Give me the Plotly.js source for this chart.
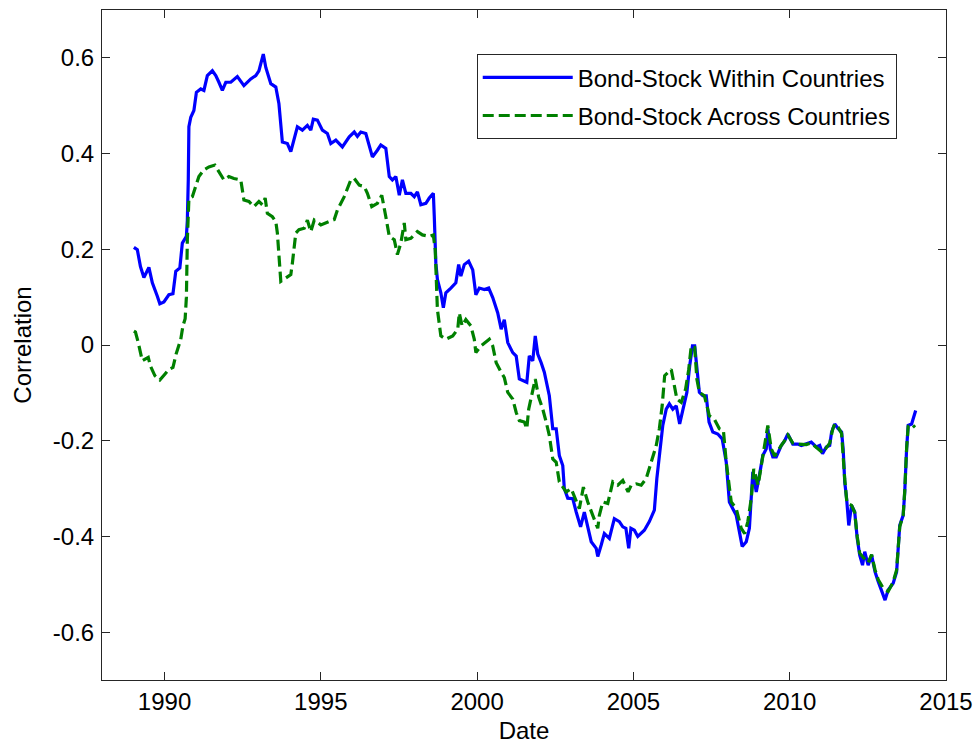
<!DOCTYPE html>
<html>
<head>
<meta charset="utf-8">
<script src="https://cdn.plot.ly/plotly-3.0.1.min.js"></script>
<style>html,body{margin:0;padding:0;background:#fff;}#chart{width:979px;height:746px;}</style>
</head>
<body>
<div id="chart"></div>
<script>
// Series names
const seriesNames = ["Bond-Stock Within Countries", "Bond-Stock Across Countries"];

// Bond-Stock Within Countries (date in decimal years, correlation)
const withinDates = [1989.02,1989.13,1989.23,1989.34,1989.50,1989.61,1989.77,1989.85,1989.98,1990.14,1990.27,1990.36,1990.49,1990.57,1990.70,1990.73,1990.76,1990.78,1990.84,1990.94,1991.02,1991.16,1991.26,1991.37,1991.53,1991.64,1991.74,1991.85,1991.96,1992.12,1992.33,1992.54,1992.76,1992.92,1993.02,1993.16,1993.24,1993.40,1993.56,1993.66,1993.77,1993.93,1994.04,1994.14,1994.25,1994.41,1994.57,1994.68,1994.76,1994.89,1995.05,1995.21,1995.32,1995.48,1995.69,1995.91,1996.07,1996.17,1996.28,1996.44,1996.55,1996.65,1996.81,1996.92,1997.08,1997.19,1997.29,1997.40,1997.51,1997.61,1997.72,1997.88,1997.99,1998.09,1998.20,1998.36,1998.47,1998.60,1998.63,1998.68,1998.73,1998.84,1998.92,1999.00,1999.16,1999.32,1999.41,1999.48,1999.59,1999.73,1999.86,1999.96,2000.07,2000.23,2000.37,2000.50,2000.66,2000.77,2000.87,2000.98,2001.14,2001.25,2001.35,2001.51,2001.59,2001.67,2001.78,2001.86,2001.94,2002.05,2002.15,2002.31,2002.42,2002.53,2002.63,2002.74,2002.79,2002.90,2003.06,2003.17,2003.31,2003.43,2003.54,2003.65,2003.81,2003.86,2003.97,2004.07,2004.23,2004.39,2004.55,2004.66,2004.76,2004.85,2004.92,2005.03,2005.14,2005.35,2005.51,2005.67,2005.75,2005.83,2005.94,2006.05,2006.15,2006.26,2006.37,2006.48,2006.58,2006.71,2006.80,2006.89,2006.96,2007.03,2007.11,2007.22,2007.33,2007.42,2007.54,2007.70,2007.84,2007.97,2008.07,2008.18,2008.29,2008.39,2008.48,2008.61,2008.71,2008.82,2008.93,2009.03,2009.14,2009.25,2009.30,2009.38,2009.46,2009.57,2009.73,2009.84,2009.94,2010.10,2010.26,2010.37,2010.53,2010.69,2010.85,2010.96,2011.05,2011.17,2011.28,2011.34,2011.44,2011.55,2011.66,2011.71,2011.76,2011.82,2011.89,2011.98,2012.08,2012.16,2012.24,2012.33,2012.40,2012.51,2012.62,2012.73,2012.83,2013.05,2013.15,2013.31,2013.42,2013.52,2013.63,2013.68,2013.74,2013.79,2013.90,2014.03];
const withinValues = [0.204,0.199,0.164,0.141,0.162,0.130,0.102,0.086,0.090,0.105,0.107,0.154,0.161,0.213,0.227,0.260,0.345,0.456,0.476,0.490,0.528,0.535,0.532,0.563,0.573,0.563,0.549,0.532,0.549,0.549,0.561,0.542,0.556,0.563,0.573,0.608,0.580,0.546,0.539,0.504,0.424,0.421,0.404,0.431,0.456,0.449,0.459,0.449,0.472,0.470,0.449,0.442,0.421,0.428,0.414,0.435,0.445,0.436,0.445,0.442,0.414,0.393,0.407,0.418,0.411,0.352,0.345,0.352,0.313,0.345,0.317,0.317,0.310,0.320,0.293,0.296,0.307,0.317,0.268,0.171,0.137,0.109,0.078,0.109,0.119,0.130,0.168,0.144,0.168,0.175,0.157,0.105,0.119,0.116,0.119,0.099,0.067,0.033,0.053,0.005,-0.016,-0.023,-0.071,-0.075,-0.078,-0.023,-0.033,0.019,-0.019,-0.037,-0.057,-0.106,-0.175,-0.175,-0.231,-0.252,-0.300,-0.320,-0.321,-0.349,-0.380,-0.349,-0.383,-0.411,-0.425,-0.442,-0.418,-0.394,-0.404,-0.363,-0.369,-0.380,-0.383,-0.425,-0.383,-0.387,-0.400,-0.387,-0.369,-0.345,-0.279,-0.231,-0.168,-0.134,-0.123,-0.134,-0.127,-0.165,-0.134,-0.099,-0.044,-0.002,-0.002,-0.051,-0.099,-0.106,-0.106,-0.161,-0.182,-0.186,-0.196,-0.245,-0.328,-0.342,-0.356,-0.390,-0.421,-0.411,-0.383,-0.265,-0.307,-0.273,-0.231,-0.217,-0.175,-0.217,-0.234,-0.234,-0.210,-0.200,-0.186,-0.207,-0.207,-0.210,-0.207,-0.203,-0.213,-0.210,-0.227,-0.213,-0.210,-0.182,-0.165,-0.175,-0.182,-0.217,-0.286,-0.321,-0.377,-0.335,-0.349,-0.404,-0.439,-0.460,-0.432,-0.460,-0.439,-0.474,-0.494,-0.533,-0.512,-0.498,-0.474,-0.377,-0.356,-0.307,-0.217,-0.168,-0.165,-0.137];

// Bond-Stock Across Countries
const acrossDates = [1989.02,1989.07,1989.16,1989.21,1989.29,1989.48,1989.55,1989.69,1989.85,1990.01,1990.14,1990.27,1990.37,1990.52,1990.59,1990.66,1990.70,1990.73,1990.78,1990.89,1991.10,1991.26,1991.42,1991.61,1991.74,1991.90,1992.06,1992.22,1992.44,1992.54,1992.70,1992.86,1993.02,1993.13,1993.22,1993.29,1993.45,1993.56,1993.61,1993.66,1993.72,1993.88,1994.04,1994.09,1994.20,1994.30,1994.47,1994.57,1994.68,1994.79,1995.00,1995.27,1995.43,1995.53,1995.75,1995.96,1996.07,1996.23,1996.39,1996.49,1996.63,1996.81,1996.95,1997.08,1997.19,1997.35,1997.45,1997.56,1997.67,1997.72,1997.88,1998.09,1998.25,1998.47,1998.60,1998.66,1998.70,1998.73,1998.84,1999.00,1999.22,1999.38,1999.43,1999.52,1999.64,1999.80,1999.91,1999.96,2000.12,2000.39,2000.50,2000.61,2000.77,2000.87,2000.98,2001.14,2001.25,2001.35,2001.51,2001.59,2001.65,2001.78,2001.86,2001.97,2002.10,2002.21,2002.31,2002.42,2002.53,2002.63,2002.85,2003.01,2003.17,2003.27,2003.40,2003.54,2003.70,2003.86,2003.91,2004.02,2004.18,2004.34,2004.50,2004.66,2004.83,2004.93,2005.09,2005.25,2005.41,2005.57,2005.73,2005.83,2005.92,2006.00,2006.10,2006.21,2006.29,2006.39,2006.53,2006.67,2006.77,2006.85,2006.96,2007.03,2007.11,2007.27,2007.43,2007.59,2007.75,2007.88,2007.97,2008.13,2008.29,2008.45,2008.56,2008.66,2008.77,2008.85,2008.99,2009.14,2009.30,2009.41,2009.52,2009.73,2009.84,2009.94,2010.10,2010.26,2010.53,2010.69,2010.85,2011.05,2011.17,2011.28,2011.38,2011.44,2011.55,2011.66,2011.76,2011.83,2011.98,2012.08,2012.16,2012.24,2012.37,2012.51,2012.62,2012.73,2012.83,2012.99,2013.15,2013.31,2013.42,2013.52,2013.63,2013.68,2013.74,2013.79,2013.90,2014.01];
const acrossValues = [0.029,0.027,0.005,-0.012,-0.033,-0.026,-0.044,-0.064,-0.073,-0.061,-0.051,-0.047,-0.019,0.012,0.040,0.055,0.100,0.220,0.305,0.310,0.352,0.366,0.372,0.376,0.362,0.345,0.352,0.348,0.345,0.303,0.300,0.289,0.300,0.293,0.307,0.275,0.268,0.258,0.234,0.195,0.133,0.140,0.147,0.171,0.234,0.241,0.244,0.261,0.237,0.261,0.251,0.258,0.262,0.282,0.310,0.345,0.348,0.334,0.331,0.317,0.289,0.296,0.313,0.268,0.227,0.220,0.189,0.213,0.255,0.220,0.223,0.237,0.230,0.227,0.230,0.199,0.130,0.074,0.019,0.012,0.019,0.033,0.067,0.040,0.053,0.040,0.012,-0.016,-0.002,0.012,-0.002,-0.037,-0.057,-0.068,-0.099,-0.113,-0.141,-0.158,-0.161,-0.175,-0.134,-0.099,-0.071,-0.109,-0.134,-0.161,-0.189,-0.238,-0.245,-0.286,-0.307,-0.300,-0.328,-0.342,-0.297,-0.328,-0.356,-0.383,-0.356,-0.328,-0.331,-0.286,-0.293,-0.283,-0.307,-0.293,-0.290,-0.293,-0.279,-0.245,-0.210,-0.175,-0.127,-0.064,-0.057,-0.051,-0.078,-0.113,-0.120,-0.092,-0.051,-0.002,-0.005,-0.071,-0.099,-0.106,-0.148,-0.155,-0.175,-0.179,-0.245,-0.328,-0.342,-0.383,-0.394,-0.369,-0.321,-0.259,-0.293,-0.231,-0.168,-0.217,-0.232,-0.210,-0.200,-0.188,-0.205,-0.207,-0.208,-0.205,-0.213,-0.225,-0.215,-0.205,-0.175,-0.165,-0.172,-0.185,-0.280,-0.330,-0.335,-0.350,-0.400,-0.435,-0.445,-0.455,-0.438,-0.470,-0.490,-0.508,-0.515,-0.495,-0.470,-0.380,-0.356,-0.305,-0.217,-0.170,-0.165,-0.172];

// Axis ticks
const xTickVals = [1990, 1995, 2000, 2005, 2010, 2015];
const xTickText = ["1990", "1995", "2000", "2005", "2010", "2015"];
const yTickVals = [-0.6, -0.4, -0.2, 0, 0.2, 0.4, 0.6];
const yTickText = ["-0.6", "-0.4", "-0.2", "0", "0.2", "0.4", "0.6"];

const FONT = "Liberation Sans, Arial, sans-serif";
const AXIS_COLOR = "#262626";
const FS = 24;

const traces = [
  {
    x: withinDates, y: withinValues, type: "scatter", mode: "lines",
    name: seriesNames[0], legendgroup: "a",
    line: {color: "#0000ff", width: 3.2}
  },
  {
    x: acrossDates, y: acrossValues, type: "scatter", mode: "lines",
    name: seriesNames[1], legendgroup: "b",
    line: {color: "#008000", width: 3.2, dash: "11px,5px"}
  }
];

const axisCommon = {
  showgrid: false, zeroline: false,
  showline: true, linecolor: AXIS_COLOR, linewidth: 1,
  mirror: "ticks", ticks: "inside", ticklen: 8, tickwidth: 1, tickcolor: AXIS_COLOR,
  tickfont: {family: FONT, size: FS, color: "#000"}
};

const layout = {
  width: 979, height: 746,
  margin: {l: 102, r: 33, t: 10, b: 66},
  paper_bgcolor: "#fff", plot_bgcolor: "#fff",
  showlegend: true,
  legend: {
    x: 0.444, y: 0.934, xanchor: "left", yanchor: "top",
    bgcolor: "#fff", bordercolor: AXIS_COLOR, borderwidth: 1,
    font: {family: FONT, size: FS, color: "#000"},
    tracegroupgap: 4, itemwidth: 90
  },
  xaxis: Object.assign({}, axisCommon, {
    range: [1988, 2015], tickmode: "array", tickvals: xTickVals, ticktext: xTickText,
    title: {text: "Date", font: {family: FONT, size: FS, color: "#000"}, standoff: 8}
  }),
  yaxis: Object.assign({}, axisCommon, {
    range: [-0.7, 0.7], tickmode: "array", tickvals: yTickVals, ticktext: yTickText,
    ticklabelstandoff: 2,
    title: {text: "Correlation", font: {family: FONT, size: FS, color: "#000"}, standoff: 14}
  })
};

Plotly.newPlot("chart", traces, layout, {displayModeBar: false, staticPlot: true});
</script>
</body>
</html>
